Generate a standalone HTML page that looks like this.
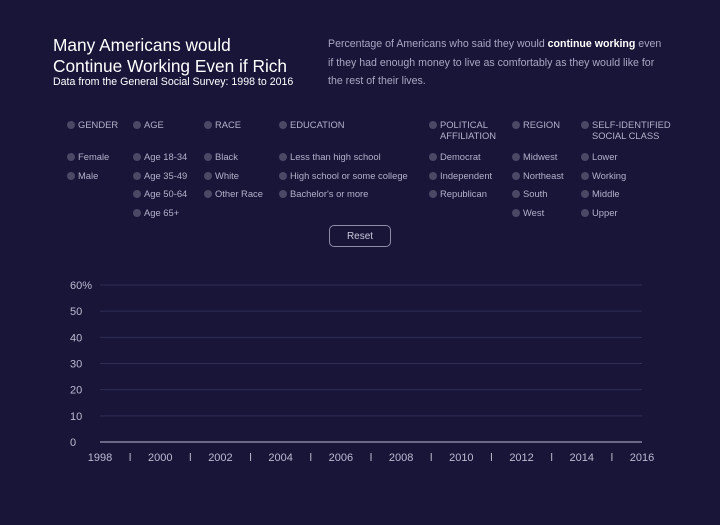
<!DOCTYPE html>
<html><head><meta charset="utf-8"><style>
body{margin:0;width:720px;height:525px;background:#181539;font-family:"Liberation Sans",sans-serif;overflow:hidden;position:relative;color:#fff}
.a{position:absolute;white-space:nowrap}
.t{left:53px;top:35px;font-size:17.3px;line-height:21px;color:#fff}
.s{left:53px;top:76px;font-size:10.6px;color:#fff}
.d{left:328px;top:35px;font-size:10.6px;line-height:18.5px;color:#a9a7c2}
.d b{color:#fff;font-weight:bold}
.o{font-size:9.4px;color:#b3b1c9;line-height:11px}
.o::before{content:"";display:inline-block;width:8px;height:8px;border-radius:50%;background:#4a4865;margin-right:3px;vertical-align:-1px}
.h{display:inline-block}
.reset{left:329px;top:225px;width:60px;height:20px;border:1px solid #8e8ca6;border-radius:5px;font-size:10px;color:#c8c6da;text-align:center;line-height:21px}
</style></head><body>
<div class="a t">Many Americans would<br>Continue Working Even if Rich</div>
<div class="a s">Data from the General Social Survey: 1998 to 2016</div>
<div class="a d">Percentage of Americans who said they would <b>continue working</b> even<br>if they had enough money to live as comfortably as they would like for<br>the rest of their lives.</div>
<div id="filters"></div>
<div class="a reset">Reset</div>
<svg id="chart" class="a" style="left:0;top:0" width="720" height="525"></svg>
<script>
const groups=[["GENDER",67,["Female","Male"]],["AGE",133,["Age 18-34","Age 35-49","Age 50-64","Age 65+"]],["RACE",204,["Black","White","Other Race"]],["EDUCATION",279,["Less than high school","High school or some college","Bachelor's or more"]],["POLITICAL<br>AFFILIATION",429,["Democrat","Independent","Republican"]],["REGION",512,["Midwest","Northeast","South","West"]],["SELF-IDENTIFIED<br>SOCIAL CLASS",581,["Lower","Working","Middle","Upper"]]];
const f=document.getElementById('filters');
groups.forEach(g=>{
  const h=document.createElement('div');h.className='a o';h.style.left=g[1]+'px';h.style.top='119px';
  h.innerHTML='<span class="h" style="vertical-align:top">'+g[0]+'</span>';
  
  
  f.appendChild(h);
  g[2].forEach((it,i)=>{
    const e=document.createElement('div');e.className='a o';e.style.left=g[1]+'px';e.style.top=(151+i*18.5)+'px';e.textContent=it;
    
    
    f.appendChild(e);
  });
});
</script>
<script>
const years=[1998,2000,2002,2004,2006,2008,2010,2012,2014,2016];
const yTicks=[0,10,20,30,40,50,60];
const seriesValues=[];
const svg=document.getElementById('chart');const NS='http://www.w3.org/2000/svg';
const x=v=>100+(v-1998)*(542/18), y=v=>442-v*(157/60);
function mk(t,a,txt){const e=document.createElementNS(NS,t);for(const k in a)e.setAttribute(k,a[k]);if(txt!==undefined)e.textContent=txt;svg.appendChild(e);return e;}
yTicks.forEach(v=>{
  if(v>0){const l=mk('line',{x1:100,x2:642,y1:y(v),y2:y(v),stroke:'#2f2d55','stroke-width':1});
  
  }
  const t=mk('text',{x:70,y:y(v)+4,fill:'#bcbad0','font-size':11,'font-family':'Liberation Sans, sans-serif'},v===60?'60%':String(v));
  
  
});
const base=mk('line',{x1:100,x2:642,y1:442,y2:442,stroke:'#8583a0','stroke-width':1.5});


years.forEach((yr,i)=>{
  const t=mk('text',{x:x(yr),y:461,fill:'#bcbad0','font-size':11,'text-anchor':'middle','font-family':'Liberation Sans, sans-serif'},String(yr));
  
  
  if(i<years.length-1){const m=mk('line',{x1:x(yr+1),x2:x(yr+1),y1:453,y2:461,stroke:'#bcbad0','stroke-width':1});
  
  }
});
seriesValues.forEach(s=>{
  const p=mk('path',{d:s.map((v,i)=>(i?'L':'M')+x(years[i])+','+y(v)).join(''),fill:'none',stroke:'#fff'});
  
  
});
</script>
</body></html>
